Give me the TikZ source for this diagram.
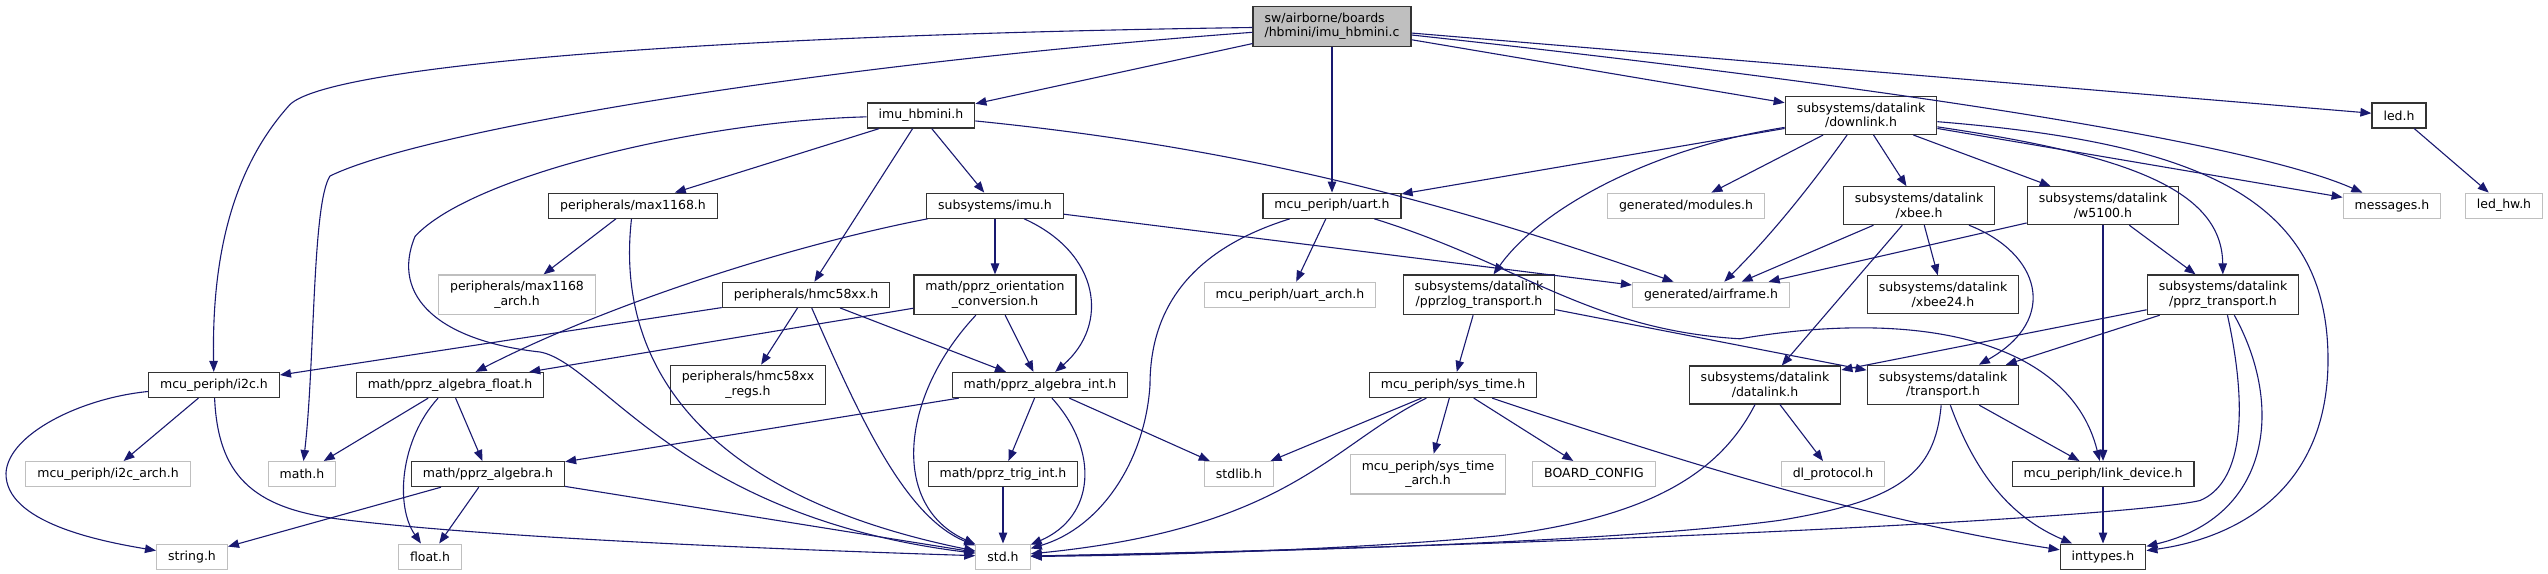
\documentclass[tikz,border=0pt]{standalone}
\usepackage{fontspec}
\setmainfont{DejaVu Sans}
\usetikzlibrary{arrows.meta}
\definecolor{edgeblue}{HTML}{191970}
\definecolor{nodoc}{HTML}{BFBFBF}
\tikzset{hfile/.style={draw=black!80,line width=1.2pt,fill=white,align=center,inner xsep=11.5pt,inner ysep=6.3pt,minimum height=25pt,font=\fontsize{12.5}{14.6}\selectfont},extfile/.style={hfile,draw=nodoc},srcfile/.style={hfile,fill=nodoc,align=left},inc/.style={-{Triangle[length=11pt,width=8.5pt]},line width=1.1pt,draw=edgeblue}}
\begin{document}
\begin{tikzpicture}[x=1pt,y=-1.1pt]
\useasboundingbox (0,0) rectangle (2548,521);
\node[srcfile] (hbc) at (1332,24) {sw/airborne/boards\\/hbmini/imu\_hbmini.c};
\node[hfile] (imuh) at (921,105) {imu\_hbmini.h};
\node[hfile] (dlk) at (1861,105) {subsystems/datalink\\/downlink.h};
\node[hfile] (led) at (2399,105) {led.h};
\node[hfile] (max) at (633,187) {peripherals/max1168.h};
\node[hfile] (imu) at (995,187) {subsystems/imu.h};
\node[hfile] (uart) at (1332,187) {mcu\_periph/uart.h};
\node[extfile] (mods) at (1686,187) {generated/modules.h};
\node[hfile] (xbee) at (1919,187) {subsystems/datalink\\/xbee.h};
\node[hfile] (w51) at (2103,187) {subsystems/datalink\\/w5100.h};
\node[extfile] (msg) at (2392,187) {messages.h};
\node[extfile] (ledhw) at (2504,187) {led\_hw.h};
\node[extfile] (maxa) at (517,268) {peripherals/max1168\\\_arch.h};
\node[hfile] (hmc) at (806,268) {peripherals/hmc58xx.h};
\node[hfile] (porc) at (995,268) {math/pprz\_orientation\\\_conversion.h};
\node[extfile] (uarta) at (1290,268) {mcu\_periph/uart\_arch.h};
\node[hfile] (plog) at (1479,268) {subsystems/datalink\\/pprzlog\_transport.h};
\node[extfile] (airf) at (1711,268) {generated/airframe.h};
\node[hfile] (xb24) at (1943,268) {subsystems/datalink\\/xbee24.h};
\node[hfile] (pprzt) at (2223,268) {subsystems/datalink\\/pprz\_transport.h};
\node[hfile] (i2c) at (214,350) {mcu\_periph/i2c.h};
\node[hfile] (pflt) at (450,350) {math/pprz\_algebra\_float.h};
\node[hfile] (hmcr) at (748,350) {peripherals/hmc58xx\\\_regs.h};
\node[hfile] (pint) at (1040,350) {math/pprz\_algebra\_int.h};
\node[hfile] (systime) at (1453,350) {mcu\_periph/sys\_time.h};
\node[hfile] (dlink) at (1765,350) {subsystems/datalink\\/datalink.h};
\node[hfile] (trans) at (1943,350) {subsystems/datalink\\/transport.h};
\node[extfile] (i2ca) at (108,431) {mcu\_periph/i2c\_arch.h};
\node[extfile] (mathh) at (302,431) {math.h};
\node[hfile] (palg) at (488,431) {math/pprz\_algebra.h};
\node[hfile] (ptrig) at (1003,431) {math/pprz\_trig\_int.h};
\node[extfile] (stdlib) at (1239,431) {stdlib.h};
\node[extfile] (sysarch) at (1428,431) {mcu\_periph/sys\_time\\\_arch.h};
\node[extfile] (board) at (1594,431) {BOARD\_CONFIG};
\node[extfile] (dlp) at (1833,431) {dl\_protocol.h};
\node[hfile] (lnk) at (2103,431) {mcu\_periph/link\_device.h};
\node[extfile] (strh) at (192,506) {string.h};
\node[extfile] (flth) at (430,506) {float.h};
\node[extfile] (stdh) at (1003,506) {std.h};
\node[hfile] (intt) at (2103,506) {inttypes.h};
\draw[inc] (hbc) .. controls (700,32) and (330,60) .. (290,95) .. controls (225,160) and (212,250) .. (i2c);
\draw[inc] (hbc) .. controls (800,60) and (420,120) .. (330,160) .. controls (312,185) and (315,330) .. (mathh);
\draw[inc] (hbc) -- (imuh); \draw[inc] (hbc) -- (uart); \draw[inc] (hbc) -- (dlk); \draw[inc] (hbc) -- (led);
\draw[inc] (hbc) .. controls (1900,80) and (2250,130) .. (msg);
\draw[inc] (imuh) -- (max); \draw[inc] (imuh) -- (hmc); \draw[inc] (imuh) -- (imu);
\draw[inc] (imuh) .. controls (1250,135) and (1450,185) .. (airf);
\draw[inc] (imuh) .. controls (700,110) and (470,160) .. (415,215) .. controls (390,270) and (440,310) .. (540,320) .. controls (600,330) and (680,470) .. (stdh);
\draw[inc] (max) -- (maxa);
\draw[inc] (max) .. controls (615,330) and (700,450) .. (stdh);
\draw[inc] (hmc) -- (hmcr); \draw[inc] (hmc) -- (i2c); \draw[inc] (hmc) -- (pint);
\draw[inc] (hmc) .. controls (860,380) and (905,470) .. (stdh);
\draw[inc] (imu) .. controls (780,225) and (600,280) .. (pflt);
\draw[inc] (imu) -- (porc); \draw[inc] (imu) -- (airf);
\draw[inc] (imu) .. controls (1100,230) and (1110,295) .. (pint);
\draw[inc] (porc) -- (pflt); \draw[inc] (porc) -- (pint);
\draw[inc] (porc) .. controls (900,360) and (890,460) .. (stdh);
\draw[inc] (pflt) -- (mathh); \draw[inc] (pflt) -- (palg);
\draw[inc] (pflt) .. controls (400,400) and (395,460) .. (flth);
\draw[inc] (pint) -- (palg); \draw[inc] (pint) -- (ptrig); \draw[inc] (pint) -- (stdlib);
\draw[inc] (pint) .. controls (1100,410) and (1095,470) .. (stdh);
\draw[inc] (palg) -- (strh); \draw[inc] (palg) -- (flth); \draw[inc] (palg) -- (stdh);
\draw[inc] (i2c) -- (i2ca);
\draw[inc] (i2c) .. controls (80,362) and (8,395) .. (6,430) .. controls (5,475) and (100,492) .. (strh);
\draw[inc] (i2c) .. controls (218,430) and (250,462) .. (340,472) .. controls (500,490) and (800,500) .. (stdh);
\draw[inc] (ptrig) -- (stdh);
\draw[inc] (uart) -- (uarta);
\draw[inc] (uart) .. controls (1180,230) and (1150,290) .. (1150,350) .. controls (1145,420) and (1100,480) .. (stdh);
\draw[inc] (uart) .. controls (1520,240) and (1590,300) .. (1740,308) .. controls (1920,280) and (2070,310) .. (lnk);
\draw[inc] (plog) -- (systime); \draw[inc] (plog) -- (trans);
\draw[inc] (systime) -- (stdlib); \draw[inc] (systime) -- (sysarch); \draw[inc] (systime) -- (board);
\draw[inc] (systime) .. controls (1330,405) and (1290,480) .. (stdh);
\draw[inc] (systime) .. controls (1650,410) and (1850,470) .. (intt);
\draw[inc] (dlk) -- (uart); \draw[inc] (dlk) -- (mods); \draw[inc] (dlk) -- (xbee); \draw[inc] (dlk) -- (w51); \draw[inc] (dlk) -- (msg);
\draw[inc] (dlk) .. controls (1650,135) and (1540,190) .. (plog);
\draw[inc] (dlk) .. controls (1810,170) and (1770,215) .. (airf);
\draw[inc] (dlk) .. controls (2120,140) and (2222,170) .. (pprzt);
\draw[inc] (dlk) .. controls (2200,130) and (2328,180) .. (2328,327) .. controls (2328,450) and (2230,490) .. (intt);
\draw[inc] (xbee) -- (airf); \draw[inc] (xbee) -- (xb24); \draw[inc] (xbee) -- (dlink);
\draw[inc] (xbee) .. controls (2040,230) and (2060,290) .. (trans);
\draw[inc] (w51) -- (airf); \draw[inc] (w51) -- (pprzt); \draw[inc] (w51) -- (lnk);
\draw[inc] (pprzt) -- (dlink); \draw[inc] (pprzt) -- (trans);
\draw[inc] (pprzt) .. controls (2250,380) and (2240,440) .. (2200,455) .. controls (2130,470) and (1600,495) .. (stdh);
\draw[inc] (pprzt) .. controls (2285,370) and (2270,470) .. (intt);
\draw[inc] (dlink) -- (dlp);
\draw[inc] (dlink) .. controls (1720,430) and (1650,470) .. (1500,487) .. controls (1350,500) and (1150,505) .. (stdh);
\draw[inc] (trans) .. controls (1935,430) and (1900,455) .. (1780,473) .. controls (1600,495) and (1200,503) .. (stdh);
\draw[inc] (trans) .. controls (1975,430) and (2010,470) .. (intt);
\draw[inc] (trans) -- (lnk); \draw[inc] (lnk) -- (intt); \draw[inc] (led) -- (ledhw);
\end{tikzpicture}
\end{document}
